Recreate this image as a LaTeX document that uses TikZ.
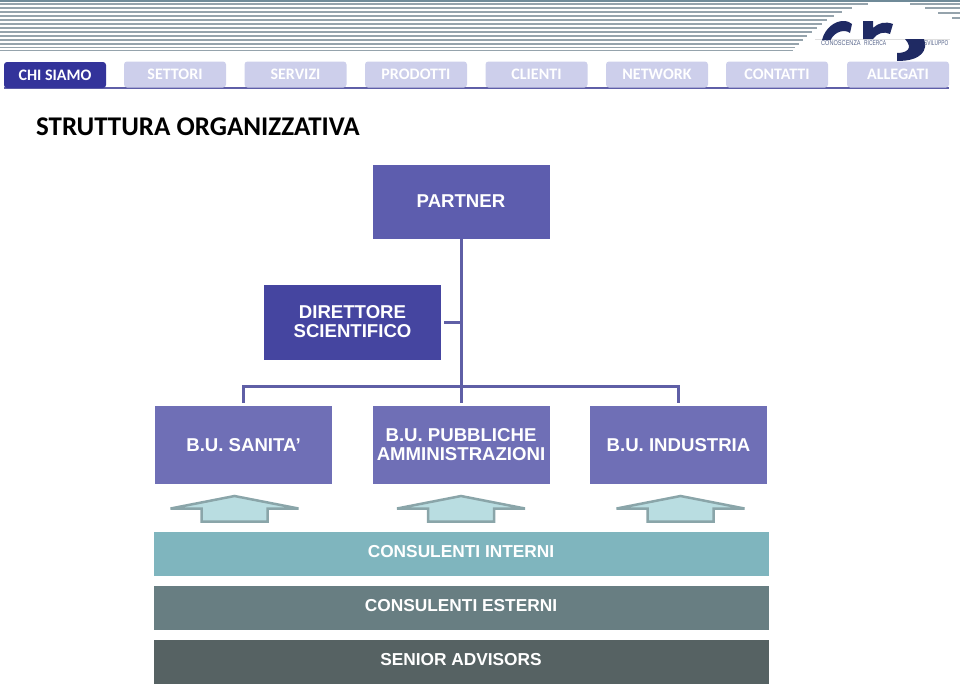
\documentclass[tikz,border=0pt]{standalone}
\usepackage{fontspec}
\setmainfont{Liberation Sans}
\newfontfamily\cali{Carlito}
\definecolor{tabact}{HTML}{33339A}
\definecolor{tabin}{HTML}{CDCFEB}
\definecolor{navrule}{HTML}{5F5FA8}
\definecolor{partner}{HTML}{5D5DAE}
\definecolor{dir}{HTML}{4545A0}
\definecolor{bu}{HTML}{6F6FB6}
\definecolor{conn}{HTML}{5F5FA6}
\definecolor{ci}{HTML}{7FB5BE}
\definecolor{ce}{HTML}{687E82}
\definecolor{sa}{HTML}{566263}
\definecolor{arrfill}{HTML}{B9DDE1}
\definecolor{arrline}{HTML}{8AA5A9}
\definecolor{stripe}{HTML}{95A3AC}
\definecolor{topbar}{HTML}{6F8A98}
\definecolor{logo}{HTML}{1F2A63}
\definecolor{logotext}{HTML}{56648A}
\tikzset{
  x=1pt,y=-1pt,
  tabbase/.style={rounded corners=3pt,minimum width=102pt,minimum height=26pt,inner sep=0pt,anchor=center,font=\cali\bfseries\fontsize{16}{16}\selectfont},
  tabon/.style={tabbase,fill=tabact,text=white},
  taboff/.style={tabbase,fill=tabin,text=white},
  orgbox/.style={inner sep=0pt,align=center,text=white,anchor=center,font=\bfseries\fontsize{18.6}{19}\selectfont},
  conline/.style={draw=conn,line width=3pt},
  uparrow/.style={draw=arrline,fill=arrfill,line width=2.5pt,line join=miter},
  band/.style={inner sep=0pt,text=white,anchor=center,minimum width=615pt,minimum height=44pt,text height=13pt,text depth=6pt,font=\bfseries\fontsize{17.3}{18}\selectfont},
  stripeline/.style={draw=stripe,line width=1.8pt},
  logotxt/.style={text=logotext,font=\fontsize{7}{7}\selectfont,anchor=base west,inner sep=0pt},
}
\begin{document}
\begin{tikzpicture}
\useasboundingbox (0,0) rectangle (960,686);
% top band
\fill[topbar] (0,0) rectangle (960,1.8);
% stripes
\foreach \y/\xa in {4/868,8/852,12/842,16/834,20/827,24/822,28/817,32/812,36/807,40/803,44/799,47.5/795,50.5/793}{
  \draw[stripeline] (0,\y) -- (\xa,\y);
}
\foreach \y/\xa in {4/910,8/925,13/938,18/952}{
  \draw[stripeline] (\xa,\y) -- (960,\y);
}
% logo
\draw[gray!25,line width=0.4pt] (815,39) -- (950,39);
\fill[logo] (822,40) .. controls (825,28) and (835,21) .. (843,21) .. controls (847,21) and (850,22) .. (852,24) -- (850,33) .. controls (845,29) and (835,31) .. (830.5,40) -- cycle;
\fill[logo] (863,21) -- (873,21) -- (873,28) .. controls (878,23) and (885,21) .. (893,24) -- (890,34) .. controls (884,31) and (877,33) .. (873,39) -- (863,39) -- cycle;
\fill[logo] (905,39) -- (924,39) .. controls (928,50) and (922,61) .. (897,61) -- (897,53) .. controls (906,53) and (914,49) .. (905,39) -- cycle;
\node[logotxt,xscale=.8] (l1) at (821,45.5) {CONOSCENZA};
\node[logotxt,xscale=.7] (l2) at (864,45.5) {RICERCA};
\node[logotxt,xscale=.69] (l3) at (924,45.5) {SVILUPPO};
% nav
\coordinate (ruleA) at (4,87.7);
\coordinate (ruleB) at (949,87.7);
\draw[draw=navrule,line width=1.8pt] (ruleA) -- (ruleB);
\node[tabon] (t1) at (55,75) {CHI SIAMO};
\node[taboff] (t2) at (175,74.5) {SETTORI};
\node[taboff] (t3) at (295.5,74.5) {SERVIZI};
\node[taboff] (t4) at (416,74.5) {PRODOTTI};
\node[taboff] (t5) at (536.5,74.5) {CLIENTI};
\node[taboff] (t6) at (657,74.5) {NETWORK};
\node[taboff] (t7) at (777,74.5) {CONTATTI};
\node[taboff] (t8) at (898,74.5) {ALLEGATI};
% title
\node[anchor=base west,inner sep=0pt,font=\cali\bfseries\fontsize{27}{27}\selectfont] (title) at (36,135) {STRUTTURA ORGANIZZATIVA};
% org
\node[orgbox,fill=partner,minimum width=177pt,minimum height=74pt] (partner) at (461,201.5) {PARTNER};
\node[orgbox,fill=dir,minimum width=177pt,minimum height=75pt] (dirs) at (352.5,322) {DIRETTORE\\SCIENTIFICO};
\node[orgbox,fill=bu,minimum width=177pt,minimum height=78pt] (bu1) at (243.5,445) {\raisebox{1pt}{B.U. SANITA’}};
\node[orgbox,fill=bu,minimum width=177pt,minimum height=78pt] (bu2) at (461,445) {B.U. PUBBLICHE\\AMMINISTRAZIONI};
\node[orgbox,fill=bu,minimum width=177pt,minimum height=78pt] (bu3) at (678.5,445) {\raisebox{1pt}{B.U. INDUSTRIA}};
\coordinate (side) at (461,322.5);
\coordinate (l1end) at (243.5,403);
\coordinate (l2end) at (461,403);
\coordinate (l3end) at (678.5,403);
\coordinate (dirend) at (444,322.5);
\draw[conline] (partner.south) -- (l2end);
\draw[conline] (dirend) -- (side);
\draw[conline] (l1end) -- (243.5,386) -- (678.5,386) -- (l3end);
% arrows
\foreach \n/\cx in {a1/234.5,a2/461,a3/680.5}{
  \draw[uparrow] (\cx-64,508.5) -- (\cx,496) -- (\cx+64,508.5) -- (\cx+33,508.5) -- (\cx+33,521.5) -- (\cx-33,521.5) -- (\cx-33,508.5) -- cycle;
}
% bands
\node[band,fill=ci] (b1) at (461,554) {CONSULENTI INTERNI};
\node[band,fill=ce] (b2) at (461,608) {CONSULENTI ESTERNI};
\node[band,fill=sa] (b3) at (461,662) {SENIOR ADVISORS};
\end{tikzpicture}
\end{document}
